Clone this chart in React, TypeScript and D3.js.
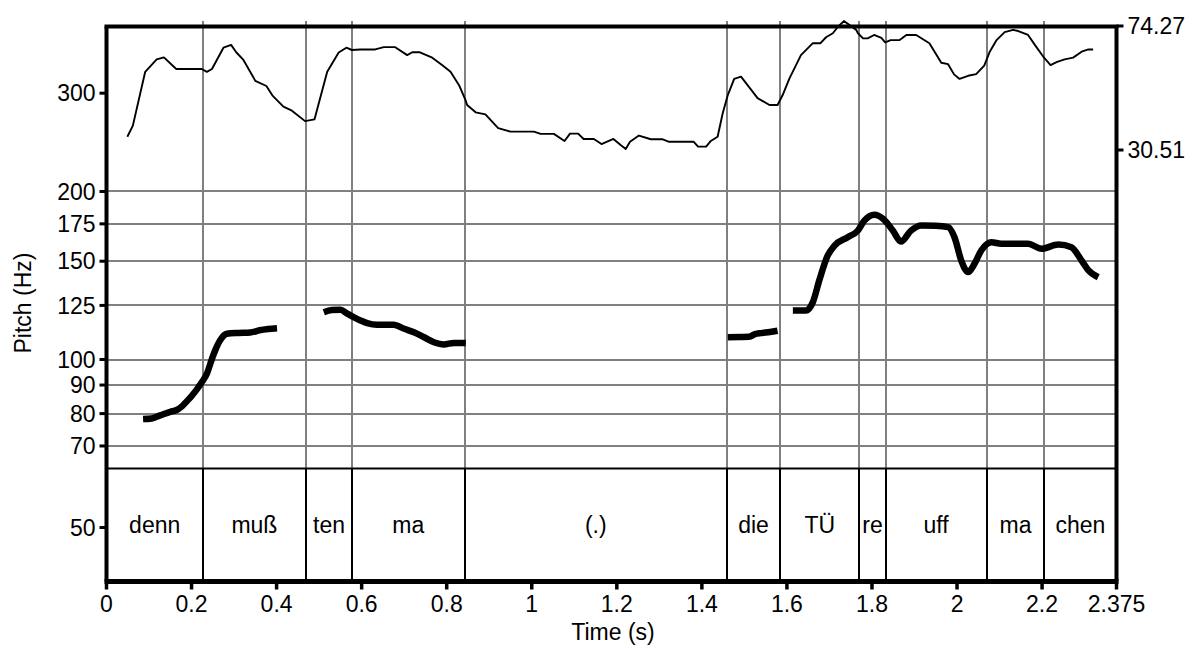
import React from "react";
import * as d3 from "d3";

const W = 1195;
const H = 649;

const tMax = 2.375;
const timeTicks = [0, 0.2, 0.4, 0.6, 0.8, 1, 1.2, 1.4, 1.6, 1.8, 2, 2.2, 2.375];
const pitchTicks = [50, 70, 80, 90, 100, 125, 150, 175, 200, 300];
const pitchGrid = [70, 80, 90, 100, 125, 150, 175, 200];
const intensityTicks = [74.27, 30.51];

const boundaries = [0.2266, 0.469, 0.5775, 0.842, 1.459, 1.584, 1.7706, 1.832, 2.0697, 2.2056];
const words = ["denn", "muß", "ten", "ma", "(.)", "die", "TÜ", "re", "uff", "ma", "chen"];

// pitch (Hz) segments: [time s, Hz]
const pitchSeg1: [number, number][] = [
  [0.086, 78.2], [0.106, 78.4], [0.126, 79.4], [0.15, 80.6], [0.165, 81.2], [0.178, 82.5],
  [0.189, 84.2], [0.2, 86], [0.212, 88.3], [0.224, 91], [0.236, 94.3], [0.248, 100.3],
  [0.257, 104.5], [0.267, 108.2], [0.283, 111.2], [0.31, 111.6], [0.338, 111.8],
  [0.36, 112.8], [0.38, 113.4], [0.401, 113.8],
];
const pitchSeg2: [number, number][] = [
  [0.511, 121.5], [0.53, 122.6], [0.55, 122.8], [0.565, 121], [0.581, 119.1], [0.597, 117.5],
  [0.613, 116.2], [0.636, 115.4], [0.675, 115.4], [0.7, 113.5], [0.723, 111.9], [0.747, 109.6],
  [0.77, 107.4], [0.793, 106.4], [0.817, 107.1], [0.845, 107.0],
];
const pitchSeg3: [number, number][] = [
  [1.461, 109.6], [1.49, 109.7], [1.511, 109.8], [1.525, 111], [1.539, 111.5], [1.56, 112], [1.578, 112.6],
];
const pitchSeg4: [number, number][] = [
  [1.614, 122.4], [1.645, 122.4], [1.661, 126.7], [1.676, 138.5], [1.696, 153.6], [1.712, 160.0],
  [1.743, 165.6], [1.767, 170.3], [1.782, 177.4], [1.806, 181.7], [1.826, 178.7], [1.849, 170.3],
  [1.868, 162.7], [1.892, 170.3], [1.916, 173.8], [1.95, 173.6], [1.979, 172.6], [1.994, 165.6],
  [2.01, 150.4], [2.026, 143.4], [2.041, 148.4], [2.057, 156.8], [2.081, 162.2], [2.104, 161.2],
  [2.167, 161.2], [2.199, 157.9], [2.238, 160.7], [2.269, 158.9], [2.293, 150.4], [2.308, 144.8],
  [2.332, 140.4],
];

// intensity (dB): [time s, dB]
const intensity: [number, number][] = [
  [0.049, 35.2], [0.062, 39.1], [0.091, 58.1], [0.118, 62.5], [0.135, 63.2], [0.164, 59.1],
  [0.224, 59.1], [0.236, 58.1], [0.248, 59.1], [0.275, 66.6], [0.293, 67.6], [0.305, 65.0],
  [0.322, 62.3], [0.35, 54.9], [0.376, 53.1], [0.391, 49.6], [0.416, 45.8], [0.436, 44.4],
  [0.467, 40.7], [0.489, 41.3], [0.519, 58.1], [0.546, 64.9], [0.564, 66.6], [0.577, 65.8],
  [0.597, 66.0], [0.632, 66.0], [0.652, 66.8], [0.679, 66.8], [0.707, 64.0], [0.719, 65.0],
  [0.737, 65.0], [0.766, 63.1], [0.789, 60.5], [0.809, 58.1], [0.829, 53.4], [0.844, 48.2],
  [0.848, 46.4], [0.868, 43.8], [0.891, 43.1], [0.921, 38.2], [0.95, 37.0], [1.005, 37.0],
  [1.021, 36.2], [1.052, 36.2], [1.077, 33.7], [1.09, 36.3], [1.109, 36.3], [1.122, 34.4],
  [1.146, 34.4], [1.164, 32.6], [1.192, 34.4], [1.209, 32.3], [1.221, 30.9], [1.231, 33.4],
  [1.252, 35.6], [1.28, 34.3], [1.308, 34.3], [1.323, 33.4], [1.381, 33.4], [1.391, 31.7],
  [1.41, 31.7], [1.421, 33.7], [1.437, 35.2], [1.449, 43.5], [1.461, 49.9], [1.476, 55.6],
  [1.492, 56.4], [1.512, 52.5], [1.531, 48.8], [1.559, 46.4], [1.578, 46.4], [1.59, 49.9],
  [1.606, 55.8], [1.633, 64.0], [1.661, 68.2], [1.679, 68.2], [1.692, 70.3], [1.708, 71.7],
  [1.72, 74.0], [1.734, 76.0], [1.763, 72.9], [1.767, 71.7], [1.779, 69.9], [1.79, 69.9],
  [1.805, 71.1], [1.822, 70.1], [1.831, 68.5], [1.844, 69.3], [1.865, 69.3], [1.881, 71.1],
  [1.904, 71.1], [1.935, 68.2], [1.963, 61.3], [1.979, 60.8], [1.993, 57.2], [2.006, 55.6],
  [2.026, 56.7], [2.045, 57.3], [2.064, 60.3], [2.077, 65.2], [2.093, 69.3], [2.112, 72.1],
  [2.132, 72.9], [2.144, 72.5], [2.167, 71.1], [2.183, 67.6], [2.203, 63.4], [2.22, 60.5],
  [2.234, 61.5], [2.253, 62.5], [2.273, 63.1], [2.293, 65.2], [2.309, 66.0], [2.32, 66.0],
];

const FONT = "'Liberation Sans', Arial, Helvetica, sans-serif";

export default function App() {
  const left = 106.5;
  const right = 1116.5;
  const top = 26.5;
  const bottom = 581.5;
  const tierTop = 468.5;
  const gridTop = 21;

  const x = d3.scaleLinear().domain([0, tMax]).range([left, right]);
  const y = d3.scaleLog().domain([40.02, 395]).range([bottom, top]);
  const yI = d3.scaleLinear().domain([30.51, 74.27]).range([150, 26]);

  const pitchLine = d3
    .line<[number, number]>()
    .x((d) => x(d[0]))
    .y((d) => y(d[1]))
    .curve(d3.curveMonotoneX);
  const intLine = d3
    .line<[number, number]>()
    .x((d) => x(d[0]))
    .y((d) => yI(d[1]));

  const edges = [0, ...boundaries, tMax];
  const fs = 23;
  const snap = (v: number) => Math.round(v) + 0.0;

  return (
    <svg
      width={W}
      height={H}
      style={{ position: "absolute", left: 0, top: 0, background: "#fff" }}
      fontFamily={FONT}
    >
      <rect x={0} y={0} width={W} height={H} fill="#fff" />
      {/* horizontal grid */}
      {pitchGrid.map((v) => (
        <line key={"g" + v} x1={left} x2={right} y1={snap(y(v))} y2={snap(y(v))} stroke="#808080" strokeWidth={2} />
      ))}
      {/* boundaries: gray above tier, black in tier */}
      {boundaries.map((b) => (
        <g key={"b" + b}>
          <line x1={snap(x(b))} x2={snap(x(b))} y1={gridTop} y2={tierTop} stroke="#808080" strokeWidth={2} />
          <line x1={snap(x(b))} x2={snap(x(b))} y1={tierTop} y2={bottom} stroke="#000" strokeWidth={2} />
        </g>
      ))}
      {/* tier top line */}
      <line x1={left} x2={right} y1={tierTop} y2={tierTop} stroke="#000" strokeWidth={2} />
      {/* frame */}
      <line x1={left - 2} x2={right + 2} y1={top} y2={top} stroke="#000" strokeWidth={4} />
      <line x1={left - 2} x2={right + 2} y1={bottom} y2={bottom} stroke="#000" strokeWidth={5} />
      <line x1={left} x2={left} y1={top} y2={bottom} stroke="#000" strokeWidth={4} />
      <line x1={right} x2={right} y1={top} y2={bottom} stroke="#000" strokeWidth={4} />

      {/* left ticks & labels */}
      {pitchTicks.map((v) => (
        <g key={"p" + v}>
          <line x1={left - 7} x2={left} y1={y(v)} y2={y(v)} stroke="#000" strokeWidth={3} />
          <text x={left - 11} y={y(v) + fs * 0.36} fontSize={fs} textAnchor="end">
            {v}
          </text>
        </g>
      ))}
      {/* right ticks & labels */}
      {intensityTicks.map((v) => (
        <g key={"i" + v}>
          <line x1={right} x2={right + 7} y1={yI(v)} y2={yI(v)} stroke="#000" strokeWidth={3} />
          <text x={right + 11} y={yI(v) + fs * 0.36} fontSize={fs} textAnchor="start">
            {v.toFixed(2)}
          </text>
        </g>
      ))}
      {/* bottom ticks & labels */}
      {timeTicks.map((v) => (
        <g key={"t" + v}>
          <line x1={x(v)} x2={x(v)} y1={bottom} y2={bottom + 8} stroke="#000" strokeWidth={3.5} />
          <text x={x(v)} y={612} fontSize={fs} textAnchor="middle">
            {String(v)}
          </text>
        </g>
      ))}

      {/* tier labels */}
      {words.map((w, i) => (
        <text key={"w" + i} x={(x(edges[i]) + x(edges[i + 1])) / 2} y={533} fontSize={fs} textAnchor="middle">
          {w}
        </text>
      ))}

      {/* curves */}
      <path d={intLine(intensity) || ""} fill="none" stroke="#000" strokeWidth={1.9} strokeLinejoin="round" />
      {[pitchSeg1, pitchSeg2, pitchSeg3, pitchSeg4].map((s, i) => (
        <path key={"ps" + i} d={pitchLine(s) || ""} fill="none" stroke="#000" strokeWidth={6.5} strokeLinejoin="round" />
      ))}

      {/* axis titles */}
      <text x={613} y={640} fontSize={fs} textAnchor="middle">
        Time (s)
      </text>
      <text transform={`translate(31, 303) rotate(-90)`} fontSize={fs} textAnchor="middle">
        Pitch (Hz)
      </text>
    </svg>
  );
}
